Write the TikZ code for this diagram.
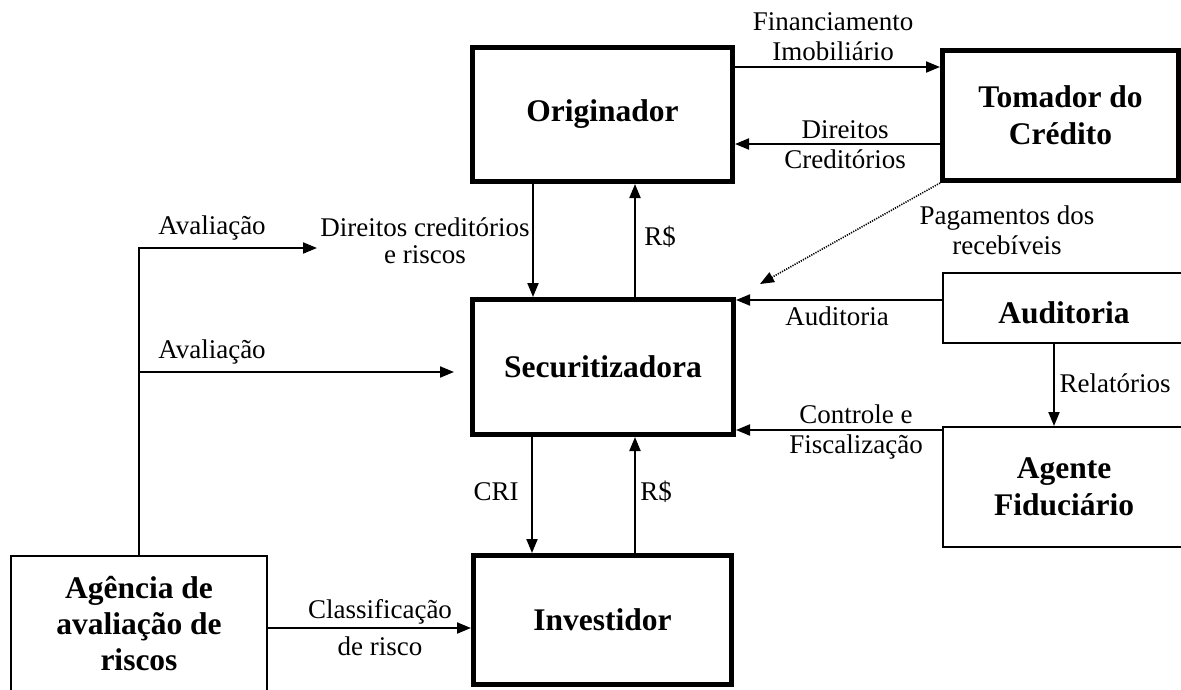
\documentclass[tikz,border=0pt]{standalone}
\usepackage{fontspec}
\setmainfont{Liberation Serif}
\usetikzlibrary{arrows.meta}
\begin{document}
\begin{tikzpicture}[x=1pt,y=-1pt,
  bigbox/.style={draw, line width=5pt, align=center, inner sep=0pt,
    font=\bfseries\fontsize{31.5}{37}\selectfont},
  smallbox/.style={draw, line width=2pt, align=center, inner sep=0pt,
    font=\bfseries\fontsize{31.5}{37}\selectfont},
  lbl/.style={align=center, inner sep=0pt, font=\fontsize{27}{30}\selectfont},
  arr/.style={line width=2pt, -{Triangle[length=14pt,width=11pt]}},
  dotarr/.style={line width=1.6pt, dash pattern=on 1.2pt off 1.2pt,
    -{Triangle[length=14pt,width=11pt]}}]
\useasboundingbox (0,0) rectangle (1181,689);
\clip (0,0) rectangle (1181,689);

% boxes
\node[bigbox, minimum width=260pt, minimum height=134pt] (orig) at (602.5,114.5) {Originador};
\node[bigbox, minimum width=236pt, minimum height=130pt] (tom) at (1060.5,115.5) {Tomador do\\Crédito};
\node[bigbox, minimum width=261pt, minimum height=135pt] (secu) at (603,367) {Securitizadora};
\node[bigbox, minimum width=258pt, minimum height=129pt] (inv) at (602.5,620) {Investidor};
\node[smallbox, minimum width=256pt, minimum height=136pt, font=\bfseries\fontsize{31.5}{36}\selectfont] (ag) at (139,624) {Agência de\\avaliação de\\riscos};
\node[smallbox, minimum width=242pt, minimum height=70pt, text height=31pt, text depth=0pt] (aud) at (1064,308) {Auditoria};
\node[smallbox, minimum width=242pt, minimum height=120pt] (agt) at (1064,487) {Agente\\Fiduciário};

% connectors
\draw[arr] (orig.east |- 0,67) -- (tom.west |- 0,67);
\draw[arr] (tom.west |- 0,144) -- (orig.east |- 0,144);
\coordinate (pagend) at (760,284);
\draw[dotarr] (tom.south west) -- (pagend);
\draw[arr] (orig.south -| 533,0) -- (secu.north -| 533,0);
\draw[arr] (secu.north -| 635,0) -- (orig.south -| 635,0);
\draw[arr] (aud.west |- 0,300) -- (secu.east |- 0,300);
\draw[arr] (agt.west |- 0,430) -- (secu.east |- 0,430);
\draw[arr] (aud.south -| 1054,0) -- (agt.north -| 1054,0);
\draw[arr] (secu.south -| 532,0) -- (inv.north -| 532,0);
\draw[arr] (inv.north -| 635,0) -- (secu.south -| 635,0);
\draw[arr] (ag.east |- 0,628) -- (inv.west |- 0,628);
\coordinate (avj1) at (139,248);
\coordinate (avend1) at (317,248);
\coordinate (avj2) at (139,372);
\draw[arr] (ag.north) -- (avj1) -- (avend1);
\draw[arr] (avj2) -- ([xshift=-16pt]secu.west |- avj2);

% labels
\node[lbl] (lfin) at (833,37) {Financiamento\\Imobiliário};
\node[lbl] (ldir) at (845,145) {Direitos\\Creditórios};
\node[lbl] (lpag) at (1007,230) {Pagamentos dos\\recebíveis};
\node[lbl, font=\fontsize{27}{27}\selectfont] (ldcr) at (425,241) {Direitos creditórios\\e riscos};
\node[lbl] (lrs1) at (660,237) {R\$};
\node[lbl] (laud) at (837,316) {Auditoria};
\node[lbl] (lctl) at (856,432) {Controle e\\Fiscalização};
\node[lbl] (lrel) at (1115,383) {Relatórios};
\node[lbl] (lcri) at (496,492) {CRI};
\node[lbl] (lrs2) at (656,492) {R\$};
\node[lbl] (lcla) at (380,628) {Classificação\\[7pt]de risco};
\node[lbl] (lav1) at (212,228) {Avaliação};
\node[lbl] (lav2) at (212,352) {Avaliação};
\end{tikzpicture}
\end{document}
